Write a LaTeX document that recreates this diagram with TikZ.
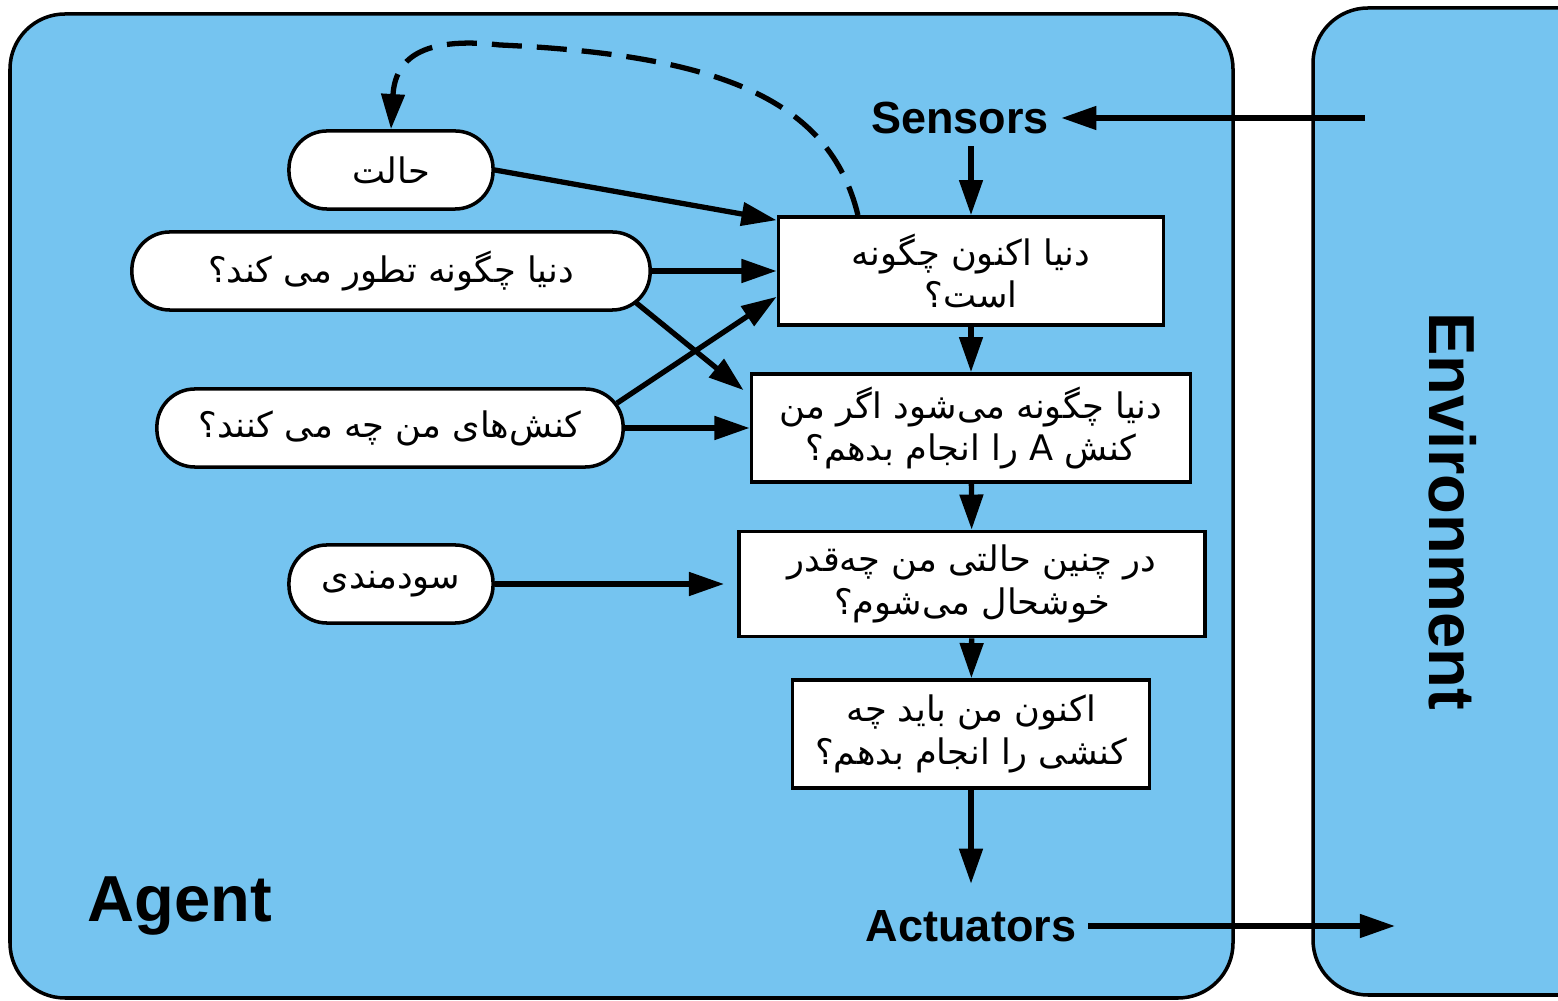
\documentclass[tikz,border=0pt]{standalone}
\usepackage{fontspec}
\setmainfont{Liberation Sans}
\newfontfamily\arabicfont[Script=Arabic]{DejaVu Sans}
\TeXXeTstate=1
\usetikzlibrary{positioning, arrows.meta}
\definecolor{agentblue}{RGB}{117,196,240}
\newcommand{\rtl}[1]{\beginR #1\endR}

\begin{document}
\begin{tikzpicture}[
    x=0.01cm, y=-0.01cm,
    >={Triangle[length=10pt, width=6.5pt]},
    frame/.style={
        draw,
        fill=agentblue,
        line width=1pt,
        rounded corners=0.55cm
    },
    pill/.style={
        draw,
        fill=white,
        line width=1pt,
        rounded corners=0.38cm,
        minimum height=0.78cm,
        font=\arabicfont\fontsize{10}{12}\selectfont
    },
    qbox/.style={
        rectangle,
        draw,
        fill=white,
        line width=1pt,
        minimum height=1.08cm,
        align=center,
        font=\arabicfont\fontsize{10}{12}\selectfont
    },
    tag/.style={font=\bfseries\fontsize{12.8}{15}\selectfont},
    bigtag/.style={font=\bfseries\fontsize{18.5}{22}\selectfont},
    arrow/.style={->, line width=1.5pt}
]
\clip (0,0) rectangle (1558,1001);

% Agent and environment
\draw[frame] (10,14) rectangle (1233,998);
\draw[frame] (1313,8) rectangle (1640,995);
\node[bigtag] (agent) at (180,906) {Agent};
\node[bigtag, rotate=-90] (env) at (1453,511) {Environment};

% Sensors and actuators
\node[tag] (sensors) at (960,118) {Sensors};
\node[tag] (actuators) at (971,926) {Actuators};
\coordinate (percept) at (1365,118);
\coordinate (effect) at (1395,926);

% Questions
\node[qbox, minimum width=3.85cm] (now) at (971,271)
    {\rtl{دنیا اکنون چگونه}\\\rtl{است؟}};
\node[qbox, minimum width=4.39cm] (ifdo) at (971,428)
    {\rtl{دنیا چگونه می‌شود اگر من}\\\rtl{کنش A را انجام بدهم؟}};
\node[qbox, minimum width=4.66cm, minimum height=1.05cm] (happy) at (972,584)
    {\rtl{در چنین حالتی من چه‌قدر}\\\rtl{خوشحال می‌شوم؟}};
\node[qbox, minimum width=3.57cm] (action) at (971,734)
    {\rtl{اکنون من باید چه}\\\rtl{کنشی را انجام بدهم؟}};

% Internal knowledge
\node[pill, minimum width=2.04cm] (state) at (391,170) {\rtl{حالت}};
\node[pill, minimum width=5.18cm] (evolve) at (391,271) {\rtl{دنیا چگونه تطور می کند؟}};
\node[pill, minimum width=4.66cm] (actions) at (390,428) {\rtl{کنش‌های من چه می کنند؟}};
\node[pill, minimum width=2.04cm] (utility) at (391,584) {\rtl{سودمندی}};

% Main flow
\draw[arrow] (percept) -- (sensors);
\draw[arrow] (sensors.south -| now.north) -- (now.north);
\draw[arrow] (now) -- (ifdo);
\draw[arrow] (ifdo) -- (happy);
\draw[arrow] (happy) -- (action);
\draw[arrow, shorten >=4pt] (action) -- (actuators);
\draw[arrow] (actuators) -- (effect);

% Side inputs
\draw[arrow] (state.east) -- ([yshift=-0.05cm]now.north west);
\draw[arrow] (evolve.east) -- (now.west);
\draw[arrow] ([shift={(-17,-10)}]evolve.south east) -- ([shift={(-6,18)}]ifdo.north west);
\draw[arrow] ([shift={(-8,16)}]actions.north east) -- ([yshift=0.3cm]now.south west);
\draw[arrow] (actions.east) -- (ifdo.west);
\draw[arrow, shorten >=0.13cm] (utility.east) -- (happy.west);

% State update
\draw[arrow, dash pattern=on 0.3cm off 0.15cm]
    ([xshift=-1.13cm]now.north) .. controls (830,100) and (720,55) .. (500,45)
    .. controls (420,36) and (395,60) .. (state.north);

\end{tikzpicture}
\end{document}
